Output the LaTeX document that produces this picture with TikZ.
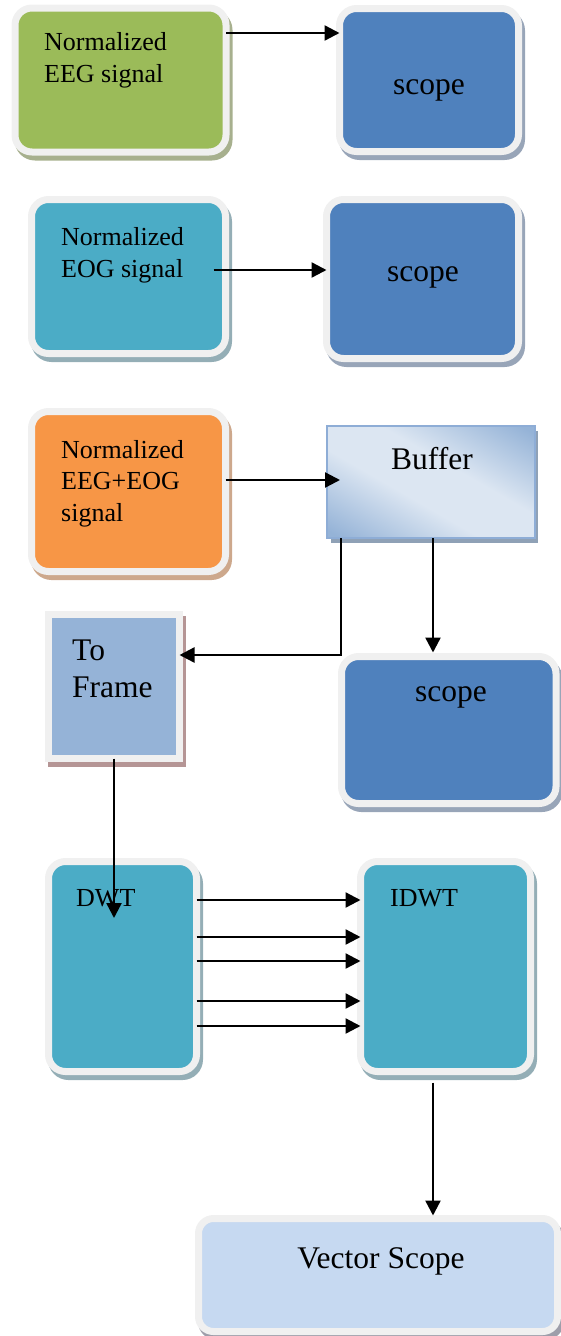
\documentclass[tikz,border=0pt]{standalone}
\usepackage{fontspec}
\setmainfont{Liberation Serif}
\usetikzlibrary{arrows.meta}
\definecolor{frameg}{HTML}{F0F0F0}
\definecolor{eeggreen}{HTML}{9BBB59}
\definecolor{eegshadow}{HTML}{A7B08E}
\definecolor{scopeblue}{HTML}{4F81BD}
\definecolor{scopeshadow}{HTML}{98A5B8}
\definecolor{eogteal}{HTML}{4BACC6}
\definecolor{tealshadow}{HTML}{94AEB6}
\definecolor{mixorange}{HTML}{F79646}
\definecolor{orangeshadow}{HTML}{CDA88C}
\definecolor{framefill}{HTML}{95B3D7}
\definecolor{frameshadow}{HTML}{B59595}
\definecolor{vecfill}{HTML}{C6D9F1}
\definecolor{vecshadow}{HTML}{9E9EAA}
\definecolor{buflight}{HTML}{DCE6F2}
\definecolor{bufdark}{HTML}{95B3D7}
\definecolor{bufedge}{HTML}{8EADD6}
\definecolor{bufshadow}{HTML}{8FA1B6}
% diagonal sheen of the buffer block
\pgfdeclarehorizontalshading{bufgrad}{100bp}{color(0bp)=(bufdark); color(18bp)=(bufdark);
  color(42bp)=(buflight); color(58bp)=(buflight); color(82bp)=(bufdark); color(100bp)=(bufdark)}
\tikzset{
  shadowed/.style={preaction={draw=#1, fill=#1, line width=7pt,
      transform canvas={shift={(3pt,-5pt)}}}},
  block/.style 2 args={shape=rectangle, draw=frameg, line width=7pt, fill=#1,
      rounded corners=17pt, inner sep=0pt, outer sep=0pt, anchor=north west,
      shadowed=#2},
  sqblock/.style 2 args={shape=rectangle, draw=frameg, line width=7pt, fill=#1,
      inner sep=0pt, outer sep=0pt, anchor=north west, shadowed=#2},
  small/.style={inner sep=0pt, font=\fontsize{26}{31.5}\selectfont, align=left},
  big/.style={inner sep=0pt, font=\fontsize{31.5}{37}\selectfont, align=left},
  arr/.style={line width=2.4pt, -{Triangle[length=15pt,width=15pt]}},
}
\begin{document}
\begin{tikzpicture}[x=1pt, y=-1pt]
\useasboundingbox (0,0) rectangle (561,1336);

% signal sources and their scopes
\node[block={eeggreen}{eegshadow}, minimum width=211pt, minimum height=144pt] (eeg) at (15,8) {};
\node[block={scopeblue}{scopeshadow}, minimum width=179pt, minimum height=143pt] (s1) at (339.5,8.5) {};
\node[block={eogteal}{tealshadow}, minimum width=194pt, minimum height=154pt] (eog) at (31.5,199.5) {};
\node[block={scopeblue}{scopeshadow}, minimum width=192pt, minimum height=159pt] (s2) at (326.5,199.5) {};
\node[block={mixorange}{orangeshadow}, minimum width=194pt, minimum height=160pt] (mix) at (31.5,411.5) {};

% buffer with diagonal gradient and its shadow
\fill[bufshadow] (331,431) rectangle (538,543);
\node[shape=rectangle, anchor=north west, inner sep=0pt, outer sep=0pt,
      minimum width=208pt, minimum height=112pt, draw=bufedge, line width=1.5pt,
      shading=bufgrad, shading angle=60]
      (buf) at (327,426) {};

\node[sqblock={framefill}{frameshadow}, minimum width=131pt, minimum height=144pt] (tf) at (48.5,614.5) {};
\node[block={scopeblue}{scopeshadow}, minimum width=214.5pt, minimum height=147pt] (s3) at (341.5,656.5) {};
\node[block={eogteal}{tealshadow}, minimum width=148pt, minimum height=210pt] (dwt) at (48.5,861.5) {};
\node[block={eogteal}{tealshadow}, minimum width=170pt, minimum height=210pt] (idwt) at (360.5,861.5) {};
\node[block={vecfill}{vecshadow}, minimum width=359pt, minimum height=113pt, rounded corners=15pt] (vs) at (198.5,1218.5) {};

% labels (multi-line labels are placed by their last baseline)
\node[small, anchor=base west] (t1) at (44,82) {Normalized\\EEG signal};
\node[big, anchor=base] (t2) at (429,94) {scope};
\node[small, anchor=base west] (t3) at (61,277) {Normalized\\EOG signal};
\node[big, anchor=base] (t4) at (423,281) {scope};
\node[small, anchor=base west] (t5) at (61,521) {Normalized\\EEG+EOG\\signal};
\node[big, anchor=base] (t6) at (432,469) {Buffer};
\node[big, anchor=base west] (t7) at (72,697) {To\\Frame};
\node[big, anchor=base] (t8) at (451,701) {scope};
\node[small, anchor=base west] (t9) at (76,906) {DWT};
\node[small, anchor=base west] (t10) at (390,906) {IDWT};
\node[big, anchor=base] (t11) at (381,1268) {Vector Scope};

% connectors
\coordinate (dwtin) at (114,918);
\draw[arr] (eeg.east |- 0,33) -- (s1.west |- 0,33);
\draw[arr] ([xshift=-12pt]eog.east |- 0,270) -- (s2.west |- 0,270);
\draw[arr] (mix.east |- 0,480) -- ([xshift=13pt]buf.west |- 0,480);
\draw[arr] (buf.south -| 341,0) |- (tf.east |- 0,655);
\draw[arr] (buf.south -| 433,0) -- ([yshift=4pt]s3.north -| 433,0);
\draw[arr] (tf.south) -- (dwtin);
\foreach \yy in {900,937,961,1001,1026}
  \draw[arr] (dwt.east |- 0,\yy) -- (idwt.west |- 0,\yy);
\draw[arr] ([yshift=-11pt]idwt.south -| 433,0) -- ([yshift=3pt]vs.north -| 433,0);
\end{tikzpicture}
\end{document}
